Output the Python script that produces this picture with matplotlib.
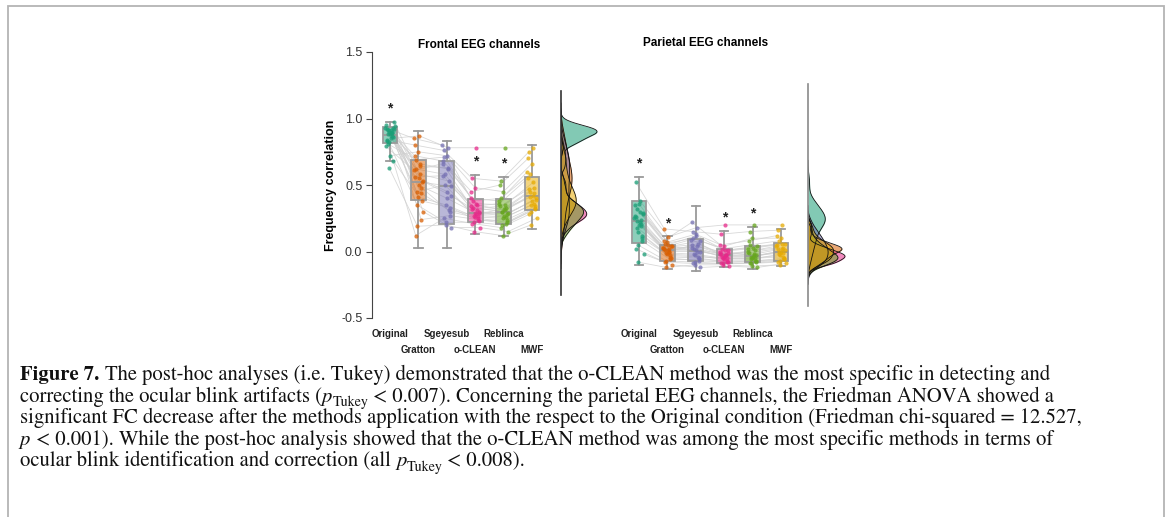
import numpy as np
import matplotlib
matplotlib.use('Agg')
import matplotlib.pyplot as plt
from matplotlib.colors import to_rgba
from matplotlib.patches import Rectangle
from matplotlib.transforms import IdentityTransform

plt.rcParams['font.family'] = ['Liberation Sans', 'DejaVu Sans']

methods = ['Original', 'Gratton', 'Sgeyesub', 'o-CLEAN', 'Reblinca', 'MWF']
colors = ['#1B9E77', '#D95F02', '#7570B3', '#E7298A', '#66A61E', '#E6AB02']

# frequency correlation per subject, frontal channels
frontal = {
    'Original': [0.93, 0.88, 0.91, 0.86, 0.95, 0.82, 0.89, 0.92, 0.84, 0.90, 0.87, 0.94, 0.81,
                 0.88, 0.93, 0.79, 0.91, 0.85, 0.68, 0.92, 0.63, 0.89, 0.97, 0.83, 0.72, 0.90],
    'Gratton': [0.85, 0.62, 0.55, 0.48, 0.72, 0.35, 0.66, 0.52, 0.80, 0.41, 0.58, 0.30, 0.69,
                0.50, 0.24, 0.61, 0.45, 0.87, 0.38, 0.56, 0.19, 0.64, 0.53, 0.12, 0.75, 0.44],
    'Sgeyesub': [0.80, 0.58, 0.45, 0.30, 0.68, 0.22, 0.62, 0.49, 0.76, 0.35, 0.53, 0.18, 0.71,
                 0.40, 0.27, 0.66, 0.50, 0.78, 0.33, 0.57, 0.20, 0.63, 0.42, 0.25, 0.72, 0.31],
    'o-CLEAN': [0.40, 0.33, 0.28, 0.25, 0.45, 0.22, 0.36, 0.30, 0.55, 0.26, 0.31, 0.18, 0.38,
                0.29, 0.24, 0.34, 0.27, 0.78, 0.23, 0.32, 0.15, 0.35, 0.29, 0.21, 0.48, 0.27],
    'Reblinca': [0.38, 0.30, 0.32, 0.22, 0.50, 0.20, 0.35, 0.28, 0.53, 0.25, 0.33, 0.15, 0.40,
                 0.27, 0.21, 0.36, 0.30, 0.78, 0.24, 0.34, 0.12, 0.31, 0.29, 0.18, 0.45, 0.26],
    'MWF': [0.60, 0.45, 0.42, 0.33, 0.70, 0.30, 0.52, 0.40, 0.75, 0.35, 0.48, 0.25, 0.58,
            0.38, 0.32, 0.55, 0.41, 0.78, 0.34, 0.47, 0.20, 0.44, 0.39, 0.28, 0.66, 0.36],
}

# frequency correlation per subject, parietal channels
parietal = {
    'Original': [0.25, 0.18, 0.30, 0.10, 0.35, 0.05, 0.22, 0.28, 0.52, 0.15, 0.24, -0.02, 0.32,
                 0.20, 0.08, 0.27, 0.23, 0.38, 0.12, 0.26, -0.08, 0.21, 0.29, 0.02, 0.36, 0.19],
    'Gratton': [0.03, 0.01, 0.05, -0.04, 0.08, -0.07, 0.02, 0.04, 0.17, -0.02, 0.00, -0.10, 0.06,
                0.01, -0.06, 0.03, -0.01, 0.11, -0.05, 0.02, -0.12, 0.00, 0.04, -0.08, 0.07, -0.03],
    'Sgeyesub': [0.09, 0.02, 0.12, -0.05, 0.22, -0.08, 0.04, 0.00, 0.15, -0.03, 0.06, -0.12, 0.10,
                 0.01, -0.06, 0.05, -0.02, 0.18, -0.07, 0.03, -0.10, 0.00, 0.08, -0.09, 0.13, -0.04],
    'o-CLEAN': [-0.02, -0.04, 0.01, -0.08, 0.05, -0.09, -0.03, -0.01, 0.13, -0.06, -0.03, -0.11, 0.02,
                -0.04, -0.07, 0.00, -0.05, 0.20, -0.08, -0.02, -0.10, -0.03, 0.01, -0.09, 0.04, -0.05],
    'Reblinca': [0.00, -0.04, 0.03, -0.07, 0.08, -0.09, -0.02, -0.03, 0.15, -0.05, 0.01, -0.12, 0.05,
                 -0.04, -0.07, 0.02, -0.06, 0.20, -0.08, -0.01, -0.11, -0.03, 0.04, -0.09, 0.10, -0.05],
    'MWF': [0.04, 0.00, 0.06, -0.05, 0.12, -0.07, 0.02, 0.01, 0.16, -0.03, 0.03, -0.09, 0.08,
            0.00, -0.06, 0.05, -0.02, 0.20, -0.06, 0.02, -0.10, -0.01, 0.06, -0.08, 0.10, -0.04],
}

# box summaries (q1, median, q3, lower whisker, upper whisker)
frontal_q1 = [0.815, 0.384, 0.205, 0.22, 0.205, 0.31]
frontal_med = [0.875, 0.52, 0.494, 0.29, 0.296, 0.414]
frontal_q3 = [0.935, 0.69, 0.677, 0.396, 0.396, 0.56]
frontal_lo = [0.68, 0.025, 0.025, 0.128, 0.113, 0.168]
frontal_hi = [0.973, 0.905, 0.83, 0.577, 0.56, 0.80]

parietal_q1 = [0.065, -0.068, -0.073, -0.085, -0.08, -0.068]
parietal_med = [0.233, 0.008, 0.003, -0.03, -0.035, 0.0]
parietal_q3 = [0.383, 0.05, 0.095, 0.02, 0.04, 0.065]
parietal_lo = [-0.10, -0.133, -0.143, -0.118, -0.13, -0.11]
parietal_hi = [0.56, 0.113, 0.34, 0.153, 0.183, 0.17]

# methods marked as significant
frontal_sig = ['Original', 'o-CLEAN', 'Reblinca']
parietal_sig = ['Original', 'Gratton', 'o-CLEAN', 'Reblinca']

# caption, one list of (text, style) runs per printed line
caption = [
    [('Figure 7.', 'bold'),
     (' The post-hoc analyses (i.e. Tukey) demonstrated that the o-CLEAN method was the most specific in detecting and', 'normal')],
    [('correcting the ocular blink artifacts (', 'normal'), ('p', 'italic'), ('Tukey', 'sub'),
     (' < 0.007). Concerning the parietal EEG channels, the Friedman ANOVA showed a', 'normal')],
    [('significant FC decrease after the methods application with the respect to the Original condition (Friedman chi-squared = 12.527,', 'normal')],
    [('p', 'italic'),
     (' < 0.001). While the post-hoc analysis showed that the o-CLEAN method was among the most specific methods in terms of', 'normal')],
    [('ocular blink identification and correction (all ', 'normal'), ('p', 'italic'), ('Tukey', 'sub'),
     (' < 0.008).', 'normal')],
]


def nrd0_kde(values, grid):
    x = np.asarray(values)
    n = len(x)
    iqr = np.subtract(*np.percentile(x, [75, 25]))
    bw = 0.9 * min(x.std(ddof=1), iqr / 1.34) * n ** -0.2
    d = np.exp(-0.5 * ((grid[:, None] - x[None, :]) / bw) ** 2).sum(axis=1)
    return d / (n * bw * np.sqrt(2 * np.pi)), bw


def draw_boxes(ax, data, q1, med, q3, lo, hi, sig):
    pos = np.arange(1, len(methods) + 1)
    n = len(data[methods[0]])
    jitter = (((np.arange(n) * 7) % n) / (n - 1) - 0.5) * 0.32
    xs = np.array([p + jitter for p in pos])
    ys = np.array([data[m] for m in methods])
    # subject trajectories
    for i in range(n):
        ax.plot(xs[:, i], ys[:, i], color='#cfcfcf', lw=0.6, alpha=0.8, zorder=1)
    stats = [dict(med=med[k], q1=q1[k], q3=q3[k], whislo=lo[k], whishi=hi[k], fliers=[])
             for k in range(len(methods))]
    bp = ax.bxp(stats, positions=pos, widths=0.52, patch_artist=True, showfliers=False,
                boxprops=dict(edgecolor='#9a9a9a', linewidth=1.3),
                medianprops=dict(color='#9a9a9a', linewidth=1.3),
                whiskerprops=dict(color='#9a9a9a', linewidth=1.3),
                capprops=dict(color='#9a9a9a', linewidth=1.3), capwidths=0.3,
                manage_ticks=False)
    for box, c in zip(bp['boxes'], colors):
        box.set_facecolor(to_rgba(c, 0.5))
        box.set_zorder(2)
    for k, c in enumerate(colors):
        ax.scatter(xs[k], ys[k], s=9, color=c, alpha=0.75, lw=0, zorder=3)
        if methods[k] in sig:
            ax.text(pos[k], hi[k] + 0.1, '*', ha='center', va='center',
                    fontsize=10, fontweight='bold', color='#222222')
    for k, m in enumerate(methods):
        ax.text(pos[k], -0.62 if k % 2 == 0 else -0.74, m, ha='center', va='center',
                fontsize=7, fontweight='bold', color='#222222')
    ax.set_xlim(0.366, 6.563)
    ax.set_ylim(-0.5, 1.5)


def draw_density(ax, data, bounds, spine_color, width_px):
    grid = np.linspace(-0.6, 1.4, 600)
    peak = 0
    for m, c in zip(methods, colors):
        d, bw = nrd0_kde(data[m], grid)
        keep = (grid > min(data[m]) - 3 * bw) & (grid < max(data[m]) + 3 * bw)
        ax.fill_betweenx(grid[keep], 0, d[keep], color=c, alpha=0.55, lw=0)
        ax.plot(d[keep], grid[keep], color='#111111', lw=0.6)
        peak = max(peak, d.max())
    ax.set_xlim(0, peak * 45 / width_px)
    ax.set_ylim(-0.5, 1.5)
    for s in ['top', 'right', 'bottom']:
        ax.spines[s].set_visible(False)
    ax.spines['left'].set_bounds(*bounds)
    ax.spines['left'].set_color(spine_color)
    ax.spines['left'].set_linewidth(1.2)
    ax.set_xticks([])
    ax.set_yticks([])
    ax.patch.set_alpha(0)


def write_caption(fig, lines, x0, y0, step, size):
    renderer = fig.canvas.get_renderer()
    H = fig.bbox.height
    space = 0.25 * size * fig.dpi / 72
    for i, runs in enumerate(lines):
        x = x0
        base = H - (y0 + step * i)
        for text, style in runs:
            kw = dict(family='STIXGeneral', fontsize=size, color='#111111')
            y = base
            if style == 'bold':
                kw['fontweight'] = 'bold'
            elif style == 'italic':
                kw['fontstyle'] = 'italic'
            elif style == 'sub':
                kw['fontsize'] = size * 0.68
                y = base - 0.22 * size * fig.dpi / 72
            lead = len(text) - len(text.lstrip(' '))
            x += lead * space
            t = fig.text(x, y, text.strip(' '), transform=IdentityTransform(),
                         ha='left', va='baseline', **kw)
            x = t.get_window_extent(renderer).x1 + (len(text) - len(text.rstrip(' '))) * space


W, H = 1168, 517
fig = plt.figure(figsize=(W / 100, H / 100), dpi=100)
bot, hgt = 1 - 318 / H, 266 / H

ax1 = fig.add_axes([372 / W, bot, 176 / W, hgt])
draw_boxes(ax1, frontal, frontal_q1, frontal_med, frontal_q3, frontal_lo, frontal_hi, frontal_sig)
for s in ['top', 'right', 'bottom']:
    ax1.spines[s].set_visible(False)
ax1.spines['left'].set_color('#444444')
ax1.set_xticks([])
ax1.set_yticks([-0.5, 0.0, 0.5, 1.0, 1.5])
ax1.set_yticklabels(['-0.5', '0.0', '0.5', '1.0', '1.5'])
ax1.tick_params(axis='y', length=4, color='#444444', labelsize=9, labelcolor='#333333', pad=3)
ax1.set_ylabel('Frequency correlation', fontsize=9, fontweight='bold')
ax1.yaxis.set_label_coords(-0.2, 0.5)
ax1.patch.set_alpha(0)
ax1.set_title('Frontal EEG channels', fontsize=8.5, fontweight='bold', x=0.61, y=1.0, pad=3)

ax2 = fig.add_axes([621 / W, bot, 176 / W, hgt])
draw_boxes(ax2, parietal, parietal_q1, parietal_med, parietal_q3, parietal_lo, parietal_hi, parietal_sig)
ax2.axis('off')
ax2.text(0.48, 1.01, 'Parietal EEG channels', transform=ax2.transAxes, ha='center',
         va='bottom', fontsize=8.5, fontweight='bold')

ax3 = fig.add_axes([561 / W, bot, 45 / W, hgt])
draw_density(ax3, frontal, (-0.33, 1.21), '#333333', 36)
ax4 = fig.add_axes([808 / W, bot, 45 / W, hgt])
draw_density(ax4, parietal, (-0.41, 1.26), '#8a8a8a', 37)

# frame
fig.patches.append(Rectangle((8 / W, -0.05), (1164 - 8) / W, 1.05 - 6 / H, transform=fig.transFigure,
                             fill=False, edgecolor='#b4b4b4', lw=1.3))

write_caption(fig, caption, 20, 380, 21.6, 14.9)

fig.savefig('out.png', dpi=100)
